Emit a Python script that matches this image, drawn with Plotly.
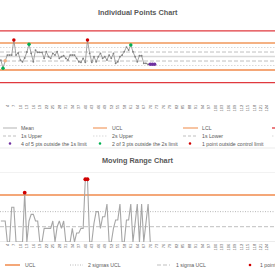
import plotly.graph_objects as go

# ---------------- data ----------------
n_categories = 127
categories = list(range(1, n_categories + 1))
tick_labels = [str(c) for c in categories]

individual_values = [
    9.22, 7.38, 9.07, 10.33, 10.33, 10.33, 13.67, 10.33, 10.78, 9.22,
    8.84, 9.67, 11.0, 12.71, 10.71, 8.84, 11.44, 10.93, 10.93, 10.93,
    9.6, 11.07, 9.96, 9.6, 10.71, 10.33, 11.07, 9.6, 9.96, 10.18,
    9.6, 9.22, 10.33, 10.33, 10.33, 9.6, 8.84, 8.71, 9.6, 8.71,
    13.67, 10.71, 8.71, 9.96, 8.84, 9.96, 10.71, 9.6, 9.96, 9.22,
    10.33, 9.6, 10.71, 8.49, 8.84, 9.96, 10.33, 11.07, 12.1, 11.44,
    12.56, 11.07, 9.96, 8.84, 10.18, 10.18, 8.49, 8.49, 8.27, 8.27, 8.27, 8.27]
red_idx = [6, 40]          # 1 point outside control limit
green_idx = [1, 13, 60]    # 2 of 3 pts outside the 2s limit
purple_idx = [69, 70, 71]  # 4 of 5 pts outside the 1s limit
orange_idx = [2]

mean_val = 10.0
sigma = 1.0
usl, lsl = 15.7, 4.2
ip_range = [-0.33, 17.67]

moving_range = [
    1.65, 1.65, 1.65, 0, 0, 2.72, 2.72, 0, 0, 0,
    0, 3.87, 0, 1.65, 2.17, 2.17, 1.65, 1.65, 0, 0,
    1.07, 1.07, 1.07, 1.07, 1.65, 0, 1.2, 1.65, 1.07, 1.65,
    0, 0, 0, 1.07, 0, 0.71, 0.71, 1.07, 1.07, 4.92,
    4.92, 0, 0, 1.47, 2.38, 2.38, 1.07, 1.98, 1.98, 2.98,
    0, 0, 1.07, 1.73, 1.73, 2.98, 0, 0, 1.73, 1.73,
    2.98, 0, 1.47, 2.98, 0, 2.98, 0, 1.47, 2.98, 0]
mr_red_idx = [11, 39, 40]
mr_ucl, mr_2s, mr_1s = 3.69, 2.38, 1.2
mr_range = [0, 5.49]

# ---------------- styles ----------------
FONT = "Arial, Liberation Sans, sans-serif"
TXT = "#595959"
RED = "#E0393E"
ORANGE = "#F08A4B"
LORANGE = "#F4B183"
GRAY_LINE = "#BFBFBF"
LIGHT = "#D9D9D9"
PURPLE = "#7030A0"
GREEN = "#00B050"
DRED = "#D00000"

W = H = 275
def px(x):
    return x / W
def py(y):
    return 1 - y / H

fig = go.Figure()

xs = categories[:len(individual_values)]
fig.add_trace(go.Scatter(x=xs, y=individual_values, mode="lines+markers",
                         line=dict(color="#8C8C8C", width=0.8),
                         marker=dict(size=1.8, color="#7F7F7F"),
                         xaxis="x", yaxis="y", hoverinfo="skip"))
for idx, col in [(orange_idx, LORANGE), (green_idx, GREEN), (purple_idx, PURPLE), (red_idx, DRED)]:
    fig.add_trace(go.Scatter(x=[xs[i] for i in idx], y=[individual_values[i] for i in idx],
                             mode="markers", marker=dict(size=3.5, color=col),
                             xaxis="x", yaxis="y", hoverinfo="skip"))

mxs = categories[:len(moving_range)]
fig.add_trace(go.Scatter(x=mxs, y=moving_range, mode="lines",
                         line=dict(color="#A6A6A6", width=1.1),
                         xaxis="x2", yaxis="y2", hoverinfo="skip"))
fig.add_trace(go.Scatter(x=[mxs[i] for i in mr_red_idx], y=[moving_range[i] for i in mr_red_idx],
                         mode="markers", marker=dict(size=3.8, color=DRED),
                         xaxis="x2", yaxis="y2", hoverinfo="skip"))

shapes = []
def hline(y, yref, color, width, dash="solid"):
    shapes.append(dict(type="line", xref="paper", x0=0, x1=1, yref=yref, y0=y, y1=y,
                       line=dict(color=color, width=width, dash=dash), layer="below"))

# individual chart limit lines
hline(usl, "y", RED, 1.3)
hline(lsl, "y", RED, 1.3)
hline(mean_val + 3 * sigma, "y", LORANGE, 2.2)
hline(mean_val - 3 * sigma, "y", ORANGE, 1.5)
hline(mean_val + 2 * sigma, "y", LIGHT, 1, "1.5px,1.5px")
hline(mean_val - 2 * sigma, "y", LIGHT, 1, "1.5px,1.5px")
hline(mean_val + sigma, "y", GRAY_LINE, 1, "4px,2px")
hline(mean_val - sigma, "y", GRAY_LINE, 1, "4px,2px")
hline(mean_val, "y", LIGHT, 1.5)

# moving range lines
hline(mr_range[1], "y2", "#E6E6E6", 1)
hline(0, "y2", "#D9D9D9", 1)
hline(mr_ucl, "y2", ORANGE, 1.5)
hline(mr_2s, "y2", "#A6A6A6", 0.8, "1px,1.5px")
hline(mr_1s, "y2", GRAY_LINE, 1, "4px,2px")

# separator
shapes.append(dict(type="line", xref="paper", yref="paper", x0=0, x1=1, y0=py(148), y1=py(148),
                   line=dict(color="#EBEBEB", width=1)))

annotations = []
def text(x, y, s, size=5.2, color=TXT, anchor="left"):
    annotations.append(dict(x=px(x), y=py(y), xref="paper", yref="paper", text=s, showarrow=False,
                            xanchor=anchor, yanchor="middle", font=dict(family=FONT, size=size, color=color)))
def leg_line(x0, x1, y, color, width, dash="solid"):
    shapes.append(dict(type="line", xref="paper", yref="paper", x0=px(x0), x1=px(x1), y0=py(y), y1=py(y),
                       line=dict(color=color, width=width, dash=dash)))
def leg_dot(x, y, color, r=1.3):
    shapes.append(dict(type="circle", xref="paper", yref="paper", x0=px(x - r), x1=px(x + r),
                       y0=py(y + r), y1=py(y - r), fillcolor=color, line=dict(width=0)))

# titles
annotations.append(dict(x=0.5, y=py(12), xref="paper", yref="paper", showarrow=False,
                        text="<b>Individual Points Chart</b>", xanchor="center", yanchor="middle",
                        font=dict(family=FONT, size=7.3, color=TXT)))
annotations.append(dict(x=0.5, y=py(160), xref="paper", yref="paper", showarrow=False,
                        text="<b>Moving Range Chart</b>", xanchor="center", yanchor="middle",
                        font=dict(family=FONT, size=7.3, color=TXT)))

# top legend
r1, r2, r3 = 128, 136, 143.5
leg_line(3, 17, r1, LIGHT, 2); text(19, r1, "Mean")
leg_line(93, 107, r1, LORANGE, 1.5); text(110, r1, "UCL")
leg_line(183, 198, r1, LORANGE, 1.5); text(200, r1, "LCL")
leg_line(272, 290, r1, RED, 1.3)
leg_line(3, 17, r2, GRAY_LINE, 1, "3px,2px"); text(19, r2, "1s Upper")
leg_line(93, 107, r2, LIGHT, 1, "1.5px,1.5px"); text(110, r2, "2s Upper")
leg_line(183, 198, r2, GRAY_LINE, 1, "3px,2px"); text(200, r2, "1s Lower")
leg_line(272, 290, r2, LIGHT, 1, "1.5px,1.5px")
leg_dot(10, r3, PURPLE); text(19, r3, "4 of 5 pts outside the 1s limit")
leg_dot(100, r3, GREEN); text(110, r3, "2 of 3 pts outside the 2s limit")
leg_dot(190, r3, DRED); text(200, r3, "1 point outside control limit")

# bottom legend
rb = 265
leg_line(5, 20, rb, ORANGE, 1.5); text(23, rb, "UCL")
leg_line(70, 83, rb, "#A6A6A6", 0.8, "1px,1.5px"); text(86, rb, "2 sigmas UCL")
leg_line(157, 170, rb, GRAY_LINE, 1, "4px,2px"); text(174, rb, "1 sigma UCL")
leg_dot(250, rb, DRED); text(258, rb, "1 point outside control limit")

tickvals = categories[::3]
ticktext = tick_labels[::3]
xaxis_common = dict(range=[0.6, n_categories + 0.6], tickvals=tickvals, ticktext=ticktext,
                    tickangle=-90, tickfont=dict(family=FONT, size=4, color=TXT),
                    showgrid=False, zeroline=False, showline=False, ticks="", domain=[0, 1])

fig.update_layout(
    width=W, height=H, margin=dict(l=0, r=0, t=0, b=0),
    paper_bgcolor="white", plot_bgcolor="white", showlegend=False,
    xaxis=dict(anchor="y", **xaxis_common),
    xaxis2=dict(anchor="y2", **xaxis_common),
    yaxis=dict(domain=[py(103), py(22)], range=ip_range, visible=False),
    yaxis2=dict(domain=[py(242), py(172)], range=mr_range, visible=False),
    shapes=shapes, annotations=annotations,
)

fig.write_html("out.html")
